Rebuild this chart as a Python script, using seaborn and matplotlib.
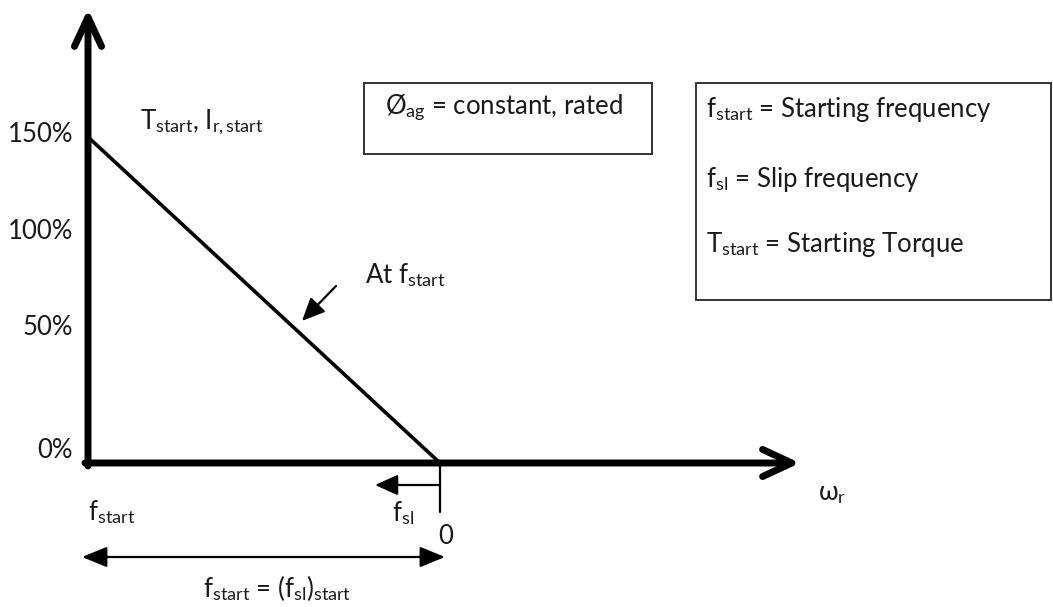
import matplotlib
matplotlib.use("Agg")
import matplotlib.pyplot as plt
from matplotlib.patches import Rectangle
import seaborn as sns

# ---- data -------------------------------------------------------------
omega = [0.0, 1.0]          # f_start -> 0 on the omega_r axis
torque = [150, 0]           # % torque / current
tick_labels = ["150%", "100%", "50%", "0%"]
legend_lines = [r"f$_{\mathrm{start}}$ = Starting frequency",
                r"f$_{\mathrm{sl}}$ = Slip frequency",
                r"T$_{\mathrm{start}}$ = Starting Torque"]
condition_text = r"Ø$_{\mathrm{ag}}$ = constant, rated"

sns.set_theme(style="white")
plt.rcParams["font.family"] = ["Lato", "DejaVu Sans"]
plt.rcParams["mathtext.fontset"] = "custom"
plt.rcParams["mathtext.rm"] = "Lato"
plt.rcParams["mathtext.it"] = "Lato:italic"

W, H = 1053, 607
OX, OY = 88, 463            # origin pixel
SX = 352.0                  # px per omega unit
SY = 326.0 / 150.0          # px per percent


def px(x, y):
    return ((x - OX) / SX, (OY - y) / SY)


fig = plt.figure(figsize=(W / 100, H / 100), dpi=100)
ax = fig.add_axes([0, 0, 1, 1])
x0, y0 = px(0, H)
x1, y1 = px(W, 0)
ax.set_xlim(x0, x1)
ax.set_ylim(y0, y1)
ax.axis("off")

TXT = "#1a1a1a"
FS = 18.5

# main characteristic line
sns.lineplot(x=omega, y=torque, ax=ax, color="black", lw=2.6)

# axes arrows
ax.annotate("", xy=px(88, 9), xytext=px(88, 466),
            arrowprops=dict(arrowstyle="->,head_length=1.4,head_width=0.65",
                            lw=5, color="black", shrinkA=0, shrinkB=0,
                            mutation_scale=15))
ax.annotate("", xy=px(800, 463), xytext=px(85, 463),
            arrowprops=dict(arrowstyle="->,head_length=1.4,head_width=0.65",
                            lw=5, color="black", shrinkA=0, shrinkB=0,
                            mutation_scale=15))

# tick at zero
ax.plot([omega[1], omega[1]], [0, px(0, 512)[1]], color="black", lw=1.6)
# slip arrow
ax.annotate("", xy=px(375, 485), xytext=px(440, 485),
            arrowprops=dict(arrowstyle="-|>,head_length=1.0,head_width=0.45",
                            lw=1.6, color="black", shrinkA=0, shrinkB=0,
                            mutation_scale=14))
# double arrow
ax.annotate("", xy=px(445, 557), xytext=px(82, 557),
            arrowprops=dict(arrowstyle="<|-|>,head_length=1.1,head_width=0.45",
                            lw=1.6, color="black", shrinkA=0, shrinkB=0,
                            mutation_scale=14))
# pointer to line
ax.annotate("", xy=px(302, 321), xytext=px(336, 286),
            arrowprops=dict(arrowstyle="-|>,head_length=1.0,head_width=0.45",
                            lw=1.6, color="black", shrinkA=0, shrinkB=0,
                            mutation_scale=14))

# y tick labels
for lab, ypix in zip(tick_labels, [135, 232, 328, 450]):
    ax.text(*px(73, ypix), lab, ha="right", va="center", fontsize=FS, color=TXT)

ax.text(*px(140, 122), r"T$_{\mathrm{start}}$, I$_{\mathrm{r,start}}$",
        ha="left", va="center", fontsize=FS, color=TXT)
ax.text(*px(365, 275), r"At f$_{\mathrm{start}}$",
        ha="left", va="center", fontsize=FS, color=TXT)
ax.text(*px(88, 512), r"f$_{\mathrm{start}}$",
        ha="left", va="center", fontsize=FS, color=TXT)
ax.text(*px(392, 513), r"f$_{\mathrm{sl}}$",
        ha="left", va="center", fontsize=FS, color=TXT)
ax.text(*px(446, 537), "0", ha="center", va="center", fontsize=FS, color=TXT)
ax.text(*px(818, 494), r"ω$_{\mathrm{r}}$", ha="left", va="center",
        fontsize=FS, color=TXT)
ax.text(*px(203, 588), r"f$_{\mathrm{start}}$ = (f$_{\mathrm{sl}}$)$_{\mathrm{start}}$",
        ha="left", va="center", fontsize=FS, color=TXT)

# condition box
bx, by = px(364, 154)
bx2, by2 = px(652, 83)
ax.add_patch(Rectangle((bx, by), bx2 - bx, by2 - by, fill=False,
                       edgecolor="#333333", lw=1.4))
ax.text(*px(385, 108), condition_text, ha="left", va="center",
        fontsize=FS, color=TXT)

# legend box
lx, ly = px(696, 300)
lx2, ly2 = px(1051, 83)
ax.add_patch(Rectangle((lx, ly), lx2 - lx, ly2 - ly, fill=False,
                       edgecolor="#333333", lw=1.4))
for line, ypix in zip(legend_lines, [110, 180, 245]):
    ax.text(*px(706, ypix), line, ha="left", va="center",
            fontsize=FS, color=TXT)

fig.savefig("out.png", dpi=100)
